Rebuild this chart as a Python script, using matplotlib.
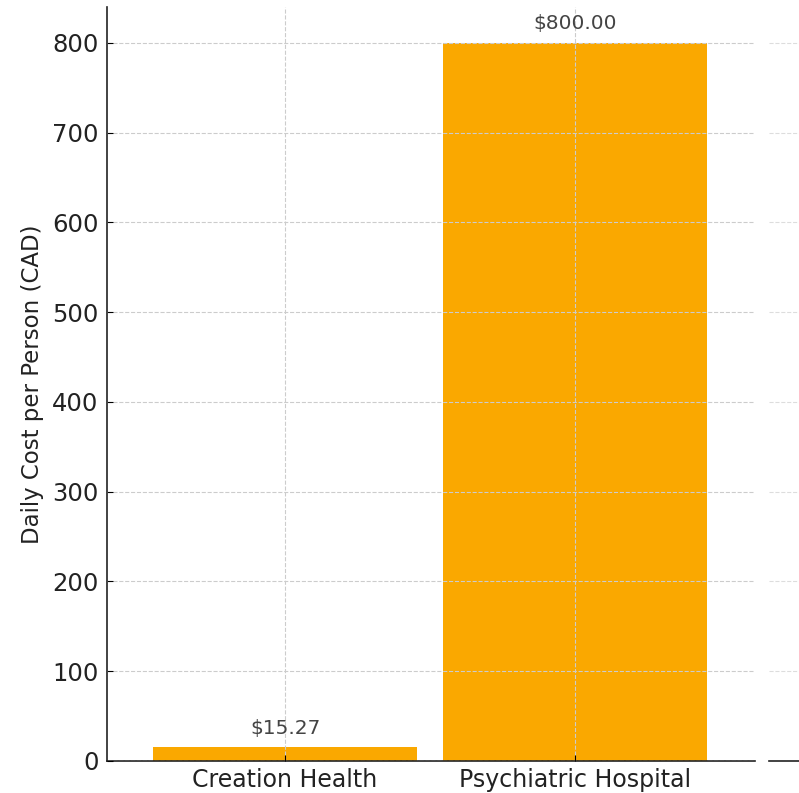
import matplotlib
matplotlib.use("Agg")
import matplotlib.pyplot as plt

categories = ["Creation Health", "Psychiatric Hospital"]
costs = [15.27, 800.00]
labels = ["$15.27", "$800.00"]
yticks = [0, 100, 200, 300, 400, 500, 600, 700, 800]

bar_color = "#FAA800"

fig = plt.figure(figsize=(7.99, 7.93), dpi=100)
ax = fig.add_axes([0.1339, 0.0404, 0.811, 0.951])
ax.bar(range(len(categories)), costs, width=0.91, color=bar_color, zorder=1)
ax.set_xlim(-0.614, 1.62)
ax.set_ylim(0, 840)
ax.set_xticks(range(len(categories)))
ax.set_xticklabels(categories, fontsize=17, color="#222222")
ax.set_yticks(yticks)
ax.tick_params(axis="y", labelsize=17.5, labelcolor="#222222", direction="in", length=4, pad=6)
ax.tick_params(axis="x", direction="in", length=4, pad=5)
ax.set_ylabel("Daily Cost per Person (CAD)", fontsize=16.5, color="#222222", labelpad=6)
ax.grid(True, linestyle="--", color="#cccccc", linewidth=0.8, zorder=2)
ax.set_axisbelow(False)
for s in ["top", "right"]:
    ax.spines[s].set_visible(False)
for sp in ["left", "bottom"]:
    ax.spines[sp].set_linewidth(1.2)
    ax.spines[sp].set_color("#222222")
for i, (v, t) in enumerate(zip(costs, labels)):
    ax.annotate(t, (i, v), xytext=(0, 7), textcoords="offset points",
                ha="center", va="bottom", fontsize=14.5, color="#444444")

ax2 = fig.add_axes([0.9625, 0.0404, 0.6, 0.951])
ax2.set_ylim(0, 840)
ax2.set_yticks(yticks)
ax2.set_yticklabels([])
ax2.set_xticks([])
ax2.tick_params(axis="y", length=0)
ax2.grid(True, linestyle="--", color="#dddddd", linewidth=0.8)
for s in ["top", "right", "left"]:
    ax2.spines[s].set_visible(False)
ax2.spines["bottom"].set_linewidth(1.2)
ax2.spines["bottom"].set_color("#222222")

fig.savefig("out.png", dpi=100)
